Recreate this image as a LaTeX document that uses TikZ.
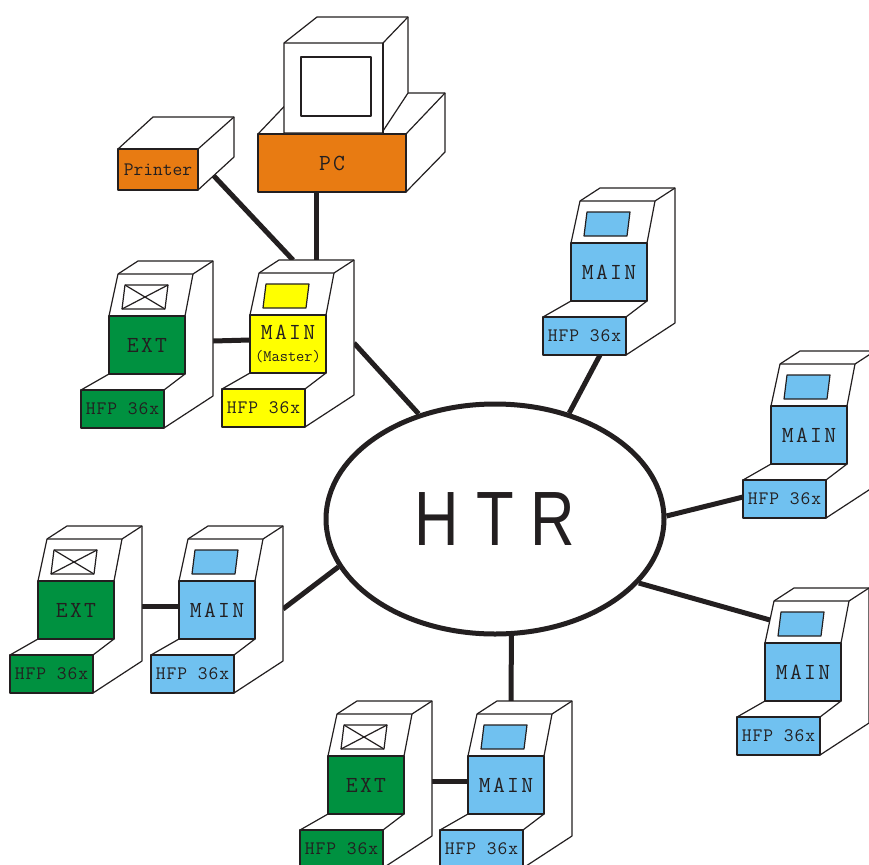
\documentclass[tikz,border=0pt]{standalone}
\usepackage{fontspec}
\usepackage{graphicx}
\usetikzlibrary{shapes.geometric}
\newfontfamily\htrfont{Liberation Sans}
\newfontfamily\labfont[LetterSpace=10]{Latin Modern Mono}
\newfontfamily\hfpfont[LetterSpace=5]{Latin Modern Mono}
\newfontfamily\tightfont{Latin Modern Mono}
\definecolor{ink}{RGB}{35,31,32}
\definecolor{mainblue}{RGB}{112,193,240}
\definecolor{extgreen}{RGB}{0,145,64}
\definecolor{pcorange}{RGB}{232,123,18}
\definecolor{masteryellow}{RGB}{255,255,0}
\pgfdeclarelayer{bg}
\pgfdeclarelayer{wires}
\pgfsetlayers{bg,wires,main}
\tikzset{
  edge/.style={line width=1.2pt, draw=ink, line join=round},
  wire/.style={line width=5pt, draw=ink},
  lbl/.style={font=\labfont\fontsize{23}{23}\selectfont, text=ink},
  hfp/.style={font=\hfpfont\fontsize{19}{20}\selectfont, text=ink},
  % cash-register style unit: #1 face colour, #2 label, #3 screen fill, #4 cross colour
  pics/unit/.style n args={4}{code={
    \fill[white] (0,0) -- (83,0) -- (132,-32) -- (132,-167) -- (57,-167)
      -- (37,-154) -- (28,-112) -- (28,-54) -- (0,-38) -- cycle;
    \draw[edge] (83,0) -- (132,-32) -- (132,-167) -- (57,-167) -- (37,-154) -- (28,-112);
    \draw[edge] (37,-154) -- (112,-154) -- (132,-167);
    \draw[edge] (112,-154) -- (104,-112);
    \draw[edge] (0,-38) -- (28,-54);
    \draw[edge] (83,-38) -- (104,-54);
    \node[edge, fill=#1, lbl, align=center, minimum width=76pt, minimum height=58pt,
          inner sep=0pt, outer sep=0pt, anchor=south west] (-box) at (28,-54) {#2};
    \node[edge, fill=#1, hfp, minimum width=83pt, minimum height=38pt,
          inner sep=0pt, outer sep=0pt, anchor=south west] (-base) at (0,0) {HFP 36x};
    \draw[edge, fill=#3] (41,-119) -- (84,-119) -- (87,-143) -- (44,-143) -- cycle;
    \draw[edge, draw=#4] (41,-119) -- (87,-143) (84,-119) -- (44,-143);
    \coordinate (-foot) at (57,0);
    \coordinate (-rside) at (132,-84);
    \coordinate (-ptop) at (94,-167);
    \coordinate (-qtop) at (71,-167);
    \coordinate (-lbase) at (0,-21);
    \coordinate (-lface) at (33,-135);
    \coordinate (-link) at (132,-87);
    \coordinate (-flink) at (28,-87);
  }}
}
\begin{document}
\begin{tikzpicture}[x=1pt, y=-1pt]
\useasboundingbox (0,0) rectangle (869,864);
\begin{pgfonlayer}{bg}
  \fill[white] (0,0) rectangle (869,864);
\end{pgfonlayer}

% central hub
\node[ellipse, draw=ink, fill=white, line width=5pt, minimum width=338pt,
      minimum height=230pt, inner sep=0pt] (htr) at (495,519)
  {\htrfont\fontsize{77}{80}\selectfont\color{ink}\scalebox{0.8}[1]{H\kern21pt T\kern21pt R}};

% PC with monitor
\draw[edge, fill=white] (258,134) -- (297,93) -- (445,93) -- (445,152) -- (406,192) -- (406,134) -- cycle;
\draw[edge] (406,134) -- (445,93);
\node[edge, fill=pcorange, lbl, minimum width=148pt, minimum height=58pt,
      inner sep=0pt, outer sep=0pt] (pc) at (332,163) {PC};
\draw[edge, fill=white] (284,133) -- (284,43) -- (317,17) -- (408,17) -- (408,93) -- (383,131) -- (383,133) -- cycle;
\draw[edge] (284,43) -- (383,43) -- (408,17);
\draw[edge] (383,43) -- (383,133);
\draw[edge] (301,57) rectangle (371,116);

% printer
\draw[edge, fill=white] (118,149) -- (153,117) -- (234,117) -- (234,157) -- (198,190) -- (198,149) -- cycle;
\draw[edge] (198,149) -- (234,117);
\node[edge, fill=pcorange, font=\tightfont\fontsize{19}{20}\selectfont, text=ink,
      minimum width=80pt, minimum height=41pt, inner sep=0pt, outer sep=0pt]
  (printer) at (158,169.5) {Printer};
\coordinate (prnport) at (213,175);

% terminals
\pic (e1)  at (81,428)  {unit={extgreen}{EXT}{white}{ink}};
\pic (mst) at (222,427) {unit={masteryellow}{MAIN\\[-1pt]{\tightfont\fontsize{16}{17}\selectfont(Master)}}{masteryellow}{none}};
\pic (t1)  at (543,355) {unit={mainblue}{MAIN}{mainblue}{none}};
\pic (t2)  at (743,518) {unit={mainblue}{MAIN}{mainblue}{none}};
\pic (t3)  at (737,755) {unit={mainblue}{MAIN}{mainblue}{none}};
\pic (e2)  at (10,693)  {unit={extgreen}{EXT}{white}{ink}};
\pic (t4)  at (151,693) {unit={mainblue}{MAIN}{mainblue}{none}};
\pic (e3)  at (300,868) {unit={extgreen}{EXT}{white}{ink}};
\pic (t5)  at (440,868) {unit={mainblue}{MAIN}{mainblue}{none}};

% network links
\begin{pgfonlayer}{wires}
  \draw[wire] (htr.55.6) -- (t1-foot);
  \draw[wire] (htr.126.4) -- (mst-rside);
  \draw[wire] (htr.1.4) -- (t2-lbase);
  \draw[wire] (htr.336.8) -- (t3-lface);
  \draw[wire] (htr.197.8) -- (t4-rside);
  \draw[wire] (htr.278) -- (t5-qtop);
  \draw[wire] (mst-ptop) -- (mst-ptop |- pc.south);
  \draw[wire] (prnport) -- (mst-qtop);
  \draw[wire] (e1-link) -- (mst-flink);
  \draw[wire] (e2-link) -- (t4-flink);
  \draw[wire] (e3-link) -- (t5-flink);
\end{pgfonlayer}
\end{tikzpicture}
\end{document}
